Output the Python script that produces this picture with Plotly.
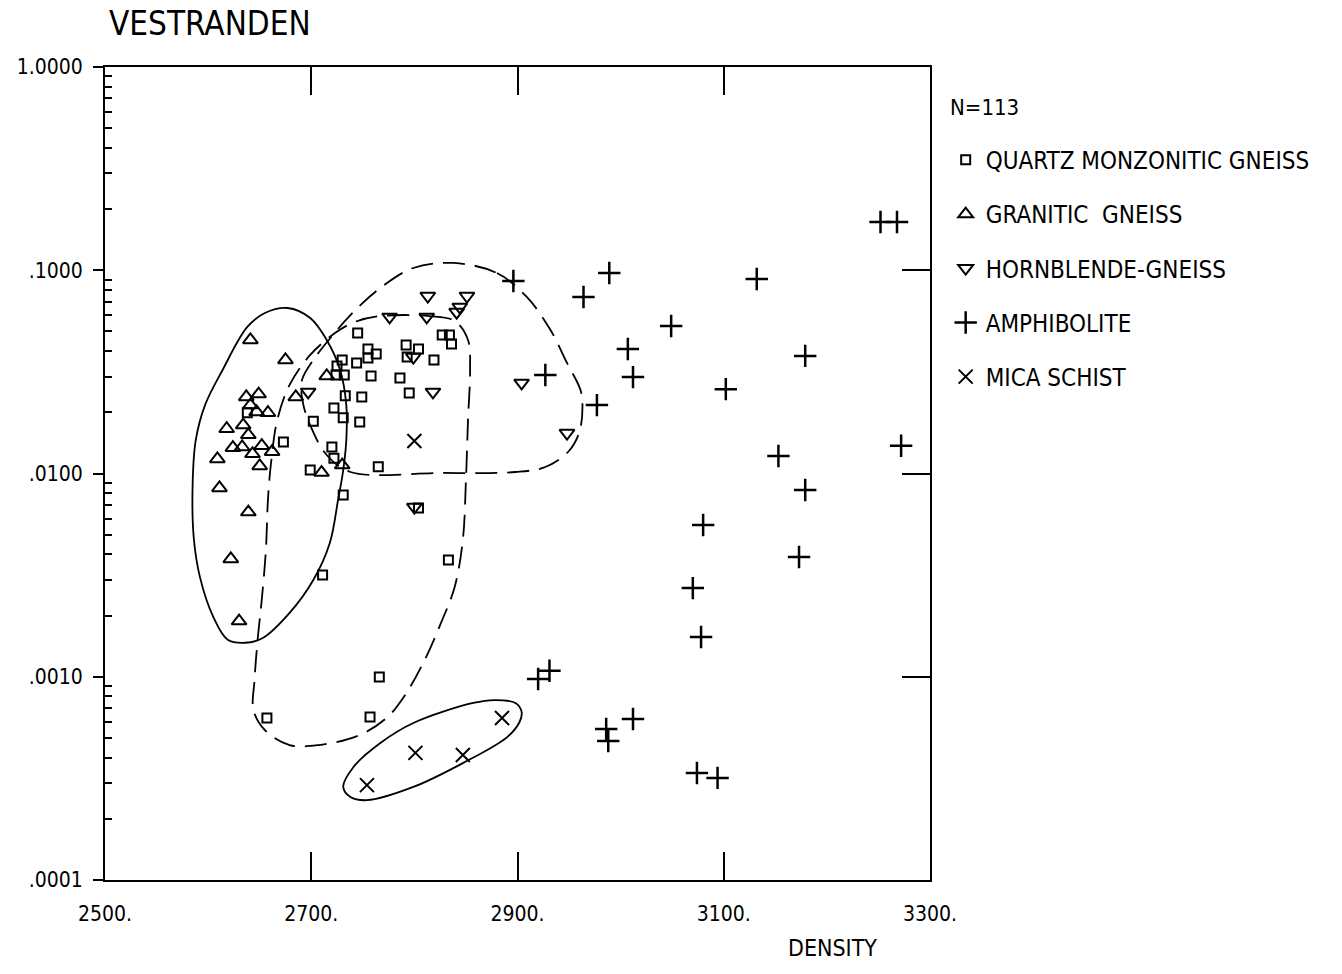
import plotly.graph_objects as go

# ---------------- data (density kg/m3, fraction) ----------------
qmg_density = [2745, 2755, 2763, 2755, 2744, 2730, 2725, 2724, 2732, 2758,
               2792, 2804, 2793, 2819, 2786, 2795, 2827, 2834, 2836, 2733,
               2749, 2722, 2731, 2747, 2702, 2673, 2638, 2720, 2722, 2699,
               2765, 2731, 2711, 2833, 2766, 2757, 2657, 2804]
qmg_value = [0.0491, 0.0410, 0.0387, 0.0370, 0.0350, 0.0362, 0.0338, 0.0305, 0.0305, 0.0302,
             0.0429, 0.0410, 0.0374, 0.0362, 0.0295, 0.0249, 0.0480, 0.0480, 0.0434, 0.0241,
             0.0238, 0.0210, 0.0188, 0.0179, 0.0181, 0.0143, 0.0199, 0.0135, 0.0119, 0.0104,
             0.0108, 0.00784, 0.00317, 0.00375, 0.000997, 0.000634, 0.000627, 0.00677]

gg_density = [2641, 2675, 2637, 2649, 2641, 2647, 2658, 2618, 2634, 2639,
              2624, 2633, 2643, 2652, 2662, 2609, 2650, 2611, 2639, 2622,
              2630, 2685, 2715, 2730, 2710]
gg_value = [0.0454, 0.0362, 0.0238, 0.0246, 0.0217, 0.0201, 0.0199, 0.0166, 0.0173, 0.0155,
            0.0134, 0.0135, 0.0125, 0.0137, 0.0128, 0.0118, 0.0109, 0.00849, 0.00646, 0.00380,
            0.00188, 0.0238, 0.0302, 0.0110, 0.0101]

hbg_density = [2813, 2851, 2844, 2841, 2776, 2812, 2697, 2818, 2799, 2904, 2948, 2800]
hbg_value = [0.0747, 0.0747, 0.0660, 0.0623, 0.0589, 0.0589, 0.0252, 0.0252, 0.0374, 0.0279,
             0.0158, 0.00684]

amph_density = [2896, 2989, 2964, 3132, 3049, 3007, 3012, 2927, 2977, 3102,
                3179, 3153, 3179, 3080, 3272, 3252, 3268, 3173, 3070, 3078,
                2920, 2931, 2986, 2988, 3012, 3074, 3094]
amph_value = [0.0886, 0.0969, 0.0739, 0.0906, 0.0532, 0.0410, 0.0298, 0.0305, 0.0217, 0.0260,
              0.0379, 0.0122, 0.00830, 0.00558, 0.0137, 0.1727, 0.1727, 0.00388, 0.00273, 0.00157,
              0.000975, 0.00107, 0.000553, 0.000483, 0.000620, 0.000336, 0.000318]

mica_density = [2800, 2885, 2801, 2847, 2754]
mica_value = [0.01445, 0.000627, 0.000422, 0.000412, 0.000293]

# outline vertices (density, fraction)
gg_outline_d = [2677, 2699, 2715, 2728, 2734, 2734, 2731, 2726, 2718, 2702, 2679, 2653,
                2636, 2619, 2605, 2592, 2586, 2585, 2588, 2597, 2614, 2638, 2655, 2677]
gg_outline_v = [0.0652, 0.0582, 0.0454, 0.0323, 0.0217, 0.0146, 0.0104, 0.00741, 0.00455,
                0.00299, 0.00206, 0.00155, 0.00147, 0.00152, 0.00197, 0.00310, 0.00487,
                0.00898, 0.0146, 0.0217, 0.0323, 0.0526, 0.0616, 0.0652]

qmg_outline_d = [2767, 2815, 2839, 2852, 2854, 2852, 2850, 2847, 2839, 2825, 2810, 2791,
                 2774, 2747, 2707, 2679, 2655, 2644, 2645, 2648, 2652, 2656, 2658, 2661,
                 2667, 2679, 2699, 2723, 2742, 2767]
qmg_outline_v = [0.0595, 0.0595, 0.0563, 0.0454, 0.0323, 0.0183, 0.00929, 0.00471, 0.00276,
                 0.00180, 0.00121, 0.000813, 0.000634, 0.000517, 0.000461, 0.000461, 0.000547,
                 0.000686, 0.000964, 0.00152, 0.00239, 0.00420, 0.00741, 0.01126, 0.0183,
                 0.0273, 0.0383, 0.0491, 0.0556, 0.0595]

hbg_outline_d = [2838, 2880, 2909, 2932, 2948, 2961, 2963, 2960, 2949, 2927, 2898, 2825,
                 2738, 2715, 2701, 2692, 2691, 2704, 2721, 2738, 2767, 2799, 2838]
hbg_outline_v = [0.1086, 0.0969, 0.0739, 0.0508, 0.0350, 0.0258, 0.0217, 0.0160, 0.01276,
                 0.01076, 0.01017, 0.01006, 0.01017, 0.01233, 0.01637, 0.0222, 0.0288,
                 0.0374, 0.0480, 0.0602, 0.0818, 0.1026, 0.1086]

mica_outline_d = [2904, 2898, 2878, 2857, 2799, 2767, 2741, 2731, 2738, 2754, 2799, 2847,
                  2890, 2902, 2904]
mica_outline_v = [0.000671, 0.000743, 0.000768, 0.000743, 0.000592, 0.000472, 0.000360,
                  0.000287, 0.000256, 0.000247, 0.000287, 0.000376, 0.000505, 0.000599,
                  0.000671]

x_ticks = [2500, 2700, 2900, 3100, 3300]
x_ticktext = ["2500.", "2700.", "2900.", "3100.", "3300."]
y_ticks = [1.0, 0.1, 0.01, 0.001, 0.0001]
y_ticktext = ["1.0000", ".1000", ".0100", ".0010", ".0001"]
y_minor = [k * 10.0 ** e for e in range(-4, 0) for k in range(2, 10)]

FONT = "DejaVu Sans Condensed, Liberation Sans Narrow, Arial Narrow, sans-serif"

fig = go.Figure()

def add_points(x, y, name, symbol, size, lw):
    fig.add_trace(go.Scatter(
        x=x, y=y, mode="markers", name=name, legendgroup=name,
        marker=dict(symbol=symbol, size=size, color="black",
                    line=dict(color="black", width=lw))))

add_points(qmg_density, qmg_value, "QUARTZ MONZONITIC GNEISS", "square-open", 9, 2)
add_points(gg_density, gg_value, "GRANITIC  GNEISS", "triangle-up-open", 13, 2)
add_points(hbg_density, hbg_value, "HORNBLENDE-GNEISS", "triangle-down-open", 13, 2)
add_points(amph_density, amph_value, "AMPHIBOLITE", "cross-thin-open", 16, 2.5)
add_points(mica_density, mica_value, "MICA SCHIST", "x-thin-open", 14, 2)

def add_outline(x, y, dash):
    fig.add_trace(go.Scatter(
        x=x, y=y, mode="lines", showlegend=False, hoverinfo="skip", yaxis="y2",
        line=dict(color="black", width=1.8, dash=dash, shape="spline", smoothing=1.0)))

add_outline(gg_outline_d, gg_outline_v, "solid")
add_outline(qmg_outline_d, qmg_outline_v, "22px,10px")
add_outline(hbg_outline_d, hbg_outline_v, "22px,10px")
add_outline(mica_outline_d, mica_outline_v, "solid")

fig.update_layout(
    width=1342, height=974,
    margin=dict(l=105, r=412, t=67, b=94),
    paper_bgcolor="white", plot_bgcolor="white",
    font=dict(family=FONT, color="black", size=21),
    showlegend=True,
    legend=dict(
        x=1.019, y=0.913, xanchor="left", yanchor="top",
        font=dict(family=FONT, size=24, color="black"),
        tracegroupgap=20, bgcolor="rgba(0,0,0,0)", borderwidth=0,
    ),
    xaxis=dict(
        range=[2500, 3300], tickmode="array", tickvals=x_ticks, ticktext=x_ticktext,
        ticks="inside", ticklen=28, tickwidth=2, tickcolor="black",
        showline=True, linewidth=2, linecolor="black", mirror="ticks",
        showgrid=False, zeroline=False, ticklabelstandoff=14,
        tickfont=dict(family=FONT, size=21, color="black"),
    ),
    yaxis=dict(
        type="log", range=[-4, 0], tickmode="array", tickvals=y_ticks, ticktext=y_ticktext,
        ticks="outside", ticklen=10, tickwidth=2, tickcolor="black",
        showline=True, linewidth=2, linecolor="black",
        showgrid=False, zeroline=False, ticklabelstandoff=6,
        tickfont=dict(family=FONT, size=21, color="black"),
        minor=dict(tickmode="array", tickvals=y_minor, ticks="inside", ticklen=7,
                   tickwidth=1.5, tickcolor="black", showgrid=False),
    ),
    yaxis2=dict(
        type="log", range=[-4, 0], overlaying="y", side="right",
        tickmode="array", tickvals=y_ticks, ticks="inside", ticklen=28, tickwidth=2,
        tickcolor="black", showticklabels=False,
        showline=True, linewidth=2, linecolor="black", showgrid=False, zeroline=False,
    ),
    annotations=[
        dict(text="VESTRANDEN", xref="paper", yref="paper", x=0.003, y=1.054,
             xanchor="left", yanchor="middle", showarrow=False,
             font=dict(family=FONT, size=33, color="black")),
        dict(text="N=113", xref="paper", yref="paper", x=1.022, y=0.950,
             xanchor="left", yanchor="middle", showarrow=False,
             font=dict(family=FONT, size=22, color="black")),
        dict(text="DENSITY", xref="paper", yref="paper", x=0.8824, y=-0.0836,
             xanchor="center", yanchor="middle", showarrow=False,
             font=dict(family=FONT, size=23, color="black")),
    ],
)

fig.write_html("out.html")
